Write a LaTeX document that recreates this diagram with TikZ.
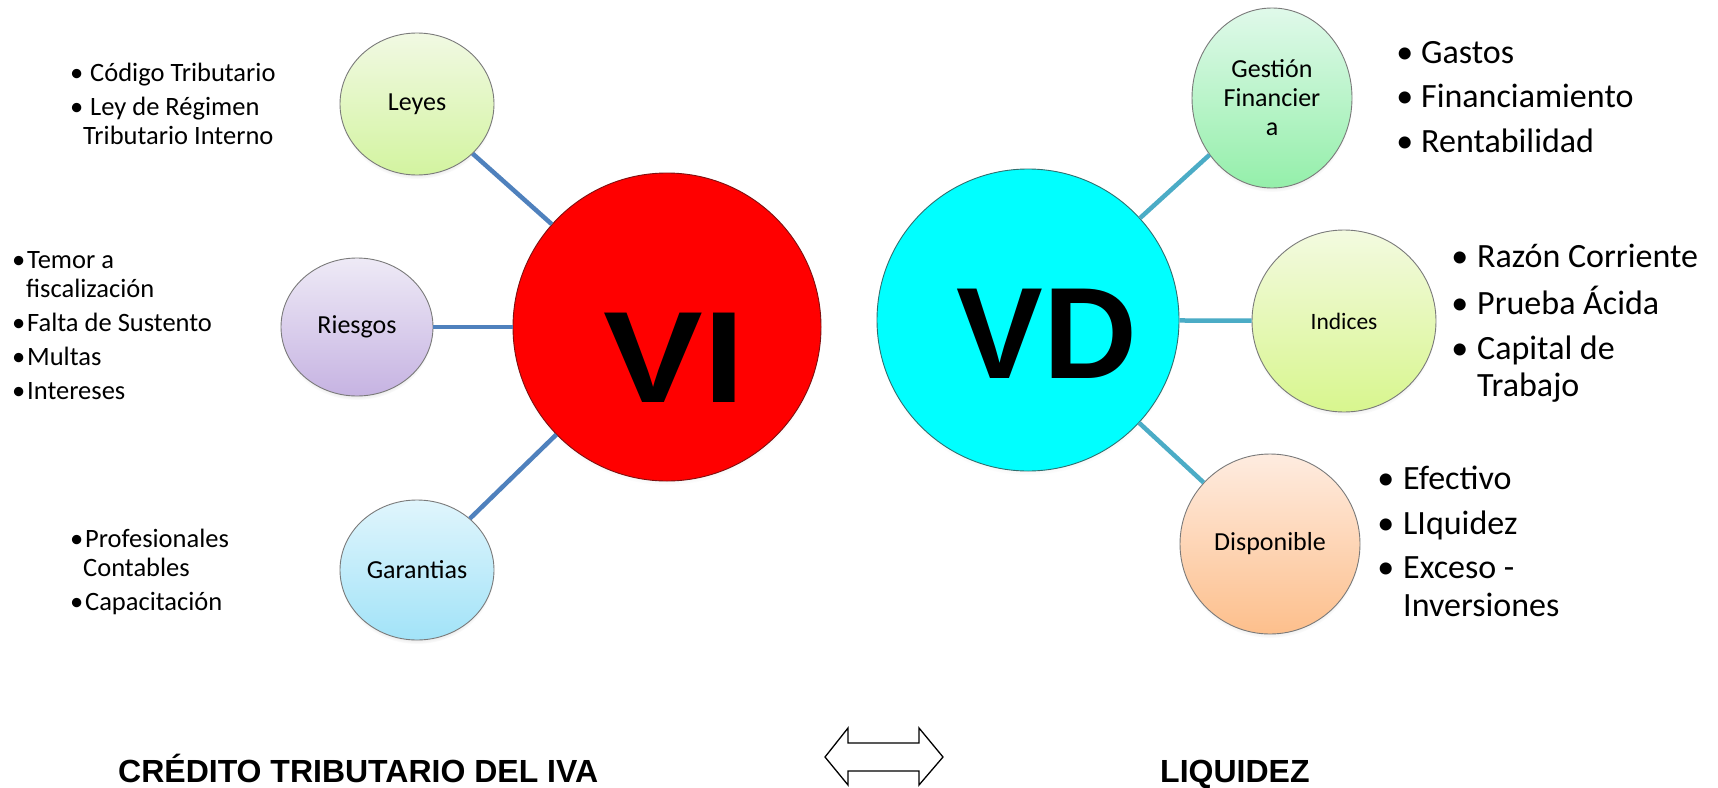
\documentclass[tikz,border=0pt]{standalone}
\usepackage{fontspec}
\setmainfont{Carlito}
\newfontfamily\headfont{Liberation Sans}
\usetikzlibrary{shapes.geometric,shadows}

% connector colours
\definecolor{linkblue}{HTML}{4F81BD}
\definecolor{linkteal}{HTML}{4BACC6}
\definecolor{bubbleedge}{HTML}{7A7A7A}
% bubble gradients (top / bottom)
\definecolor{leyT}{HTML}{F1F9E3}\definecolor{leyB}{HTML}{D3F4A0}
\definecolor{rieT}{HTML}{EEEAF6}\definecolor{rieB}{HTML}{C6B3E2}
\definecolor{garT}{HTML}{E0F5FC}\definecolor{garB}{HTML}{A2E3F8}
\definecolor{gesT}{HTML}{E0F9EA}\definecolor{gesB}{HTML}{94EFAA}
\definecolor{indT}{HTML}{F3FAE0}\definecolor{indB}{HTML}{D8F68E}
\definecolor{disT}{HTML}{FEECE0}\definecolor{disB}{HTML}{FDBF8C}
% central circles
\definecolor{vifill}{HTML}{FF0000}
\definecolor{vdfill}{HTML}{00FFFF}
\definecolor{viedge}{HTML}{7F1010}
\definecolor{vdedge}{HTML}{2F6F6F}

% hanging bullet in front of a list line
\newcommand{\bul}[1]{\llap{•\hspace{#1}}}

\tikzset{
  x=1pt, y=1pt,
  bubble/.style={ellipse, inner sep=0pt, draw=bubbleedge, line width=0.9pt,
    circular drop shadow={shadow xshift=0pt, shadow yshift=-4pt, shadow scale=1.0, opacity=0.35},
    font=\fontsize{26}{29}\selectfont, align=center},
  core/.style={circle, inner sep=0pt, line width=0.9pt,
    circular drop shadow={shadow xshift=0pt, shadow yshift=-4pt, shadow scale=1.0, opacity=0.3}},
  coretext/.style={anchor=base, inner sep=0pt, font=\headfont\bfseries\fontsize{130}{130}\selectfont},
  listsmall/.style={anchor=base west, inner sep=0pt, font=\fontsize{26.5}{29.5}\selectfont},
  listbig/.style={anchor=base west, inner sep=0pt, font=\fontsize{34}{37.5}\selectfont},
  caption/.style={anchor=base west, inner sep=0pt, font=\headfont\bfseries\fontsize{32}{32}\selectfont},
  linkL/.style={draw=linkblue, line width=4.5pt},
  linkR/.style={draw=linkteal, line width=4.5pt},
}

\begin{document}
\begin{tikzpicture}
\useasboundingbox[fill=white] (0,0) rectangle (1718,-787);

% central circles
\node[core, fill=vifill, draw=viedge, minimum size=308pt] (vi) at (667,-327) {};
\node[core, fill=vdfill, draw=vdedge, minimum size=302pt] (vd) at (1028,-320) {};
\node[coretext] (vitext) at (674.5,-402) {\scalebox{1.15}[1]{VI}};
\node[coretext] (vdtext) at (1047,-378) {VD};

% satellite bubbles, left
\node[bubble, minimum width=154pt, minimum height=142pt, top color=leyT, bottom color=leyB] (leyes) at (417,-104) {Leyes};
\node[bubble, minimum width=152pt, minimum height=138pt, top color=rieT, bottom color=rieB] (riesgos) at (357,-327) {Riesgos};
\node[bubble, minimum width=154pt, minimum height=140pt, top color=garT, bottom color=garB] (garantias) at (417,-570) {Garantias};

% satellite bubbles, right
\node[bubble, minimum width=160pt, minimum height=180pt, top color=gesT, bottom color=gesB] (gestion) at (1272,-98) {Gestión\\Financier\\a};
\node[bubble, minimum width=184pt, minimum height=182pt, top color=indT, bottom color=indB, font=\fontsize{23.5}{28}\selectfont] (indices) at (1344,-321) {Indices};
\node[bubble, minimum width=180pt, minimum height=180pt, top color=disT, bottom color=disB] (disponible) at (1270,-544) {Disponible};

% spokes
\draw[linkL] (leyes) -- (vi);
\draw[linkL] (riesgos) -- (vi);
\draw[linkL] (garantias) -- (vi);
\draw[linkR] (gestion) -- (vd);
\draw[linkR] (indices) -- (vd);
\draw[linkR] (disponible) -- (vd);

% bullet lists, left
\node[listsmall] (lleyes) at (90,-81) {\begin{tabular}[t]{@{}l@{}}
  \bul{6.8pt}Código Tributario\\[4.5pt]
  \bul{6.8pt}Ley de Régimen\\
  \hspace*{-7pt}Tributario Interno
\end{tabular}};
\node[listsmall] (lriesgos) at (27,-268) {\begin{tabular}[t]{@{}l@{}}
  \bul{1.8pt}Temor a\\
  \hspace*{-1pt}fiscalización\\[4.5pt]
  \bul{1.8pt}Falta de Sustento\\[4.5pt]
  \bul{1.8pt}Multas\\[4.5pt]
  \bul{1.8pt}Intereses
\end{tabular}};
\node[listsmall] (lgarantias) at (85,-547) {\begin{tabular}[t]{@{}l@{}}
  \bul{1.8pt}Profesionales\\
  \hspace*{-2pt}Contables\\[4.5pt]
  \bul{1.8pt}Capacitación
\end{tabular}};

% bullet lists, right
\node[listbig] (lgestion) at (1421,-63) {\begin{tabular}[t]{@{}l@{}}
  \bul{8pt}Gastos\\[7pt]
  \bul{8pt}Financiamiento\\[7pt]
  \bul{8pt}Rentabilidad
\end{tabular}};
\node[listbig] (lindices) at (1477,-267) {\begin{tabular}[t]{@{}l@{}}
  \bul{9pt}Razón Corriente\\[7.5pt]
  \bul{9pt}Prueba Ácida\\[7.5pt]
  \bul{9pt}Capital de\\
  Trabajo
\end{tabular}};
\node[listbig] (ldisponible) at (1403,-489) {\begin{tabular}[t]{@{}l@{}}
  \bul{9pt}Efectivo\\[7.5pt]
  \bul{9pt}LIquidez\\[7pt]
  \bul{9pt}Exceso -\\
  Inversiones
\end{tabular}};

% captions and the two-way arrow between them
\node[caption] (credito) at (118,-782) {CRÉDITO TRIBUTARIO DEL IVA};
\node[caption] (liquidez) at (1160,-782) {LIQUIDEZ};
\draw[line width=1.3pt, fill=white, line join=miter]
  (825,-757) -- (848,-728) -- (848,-743) -- (919,-743) -- (919,-728) -- (943,-757)
  -- (919,-785) -- (919,-771) -- (848,-771) -- (848,-785) -- cycle;
\end{tikzpicture}
\end{document}
